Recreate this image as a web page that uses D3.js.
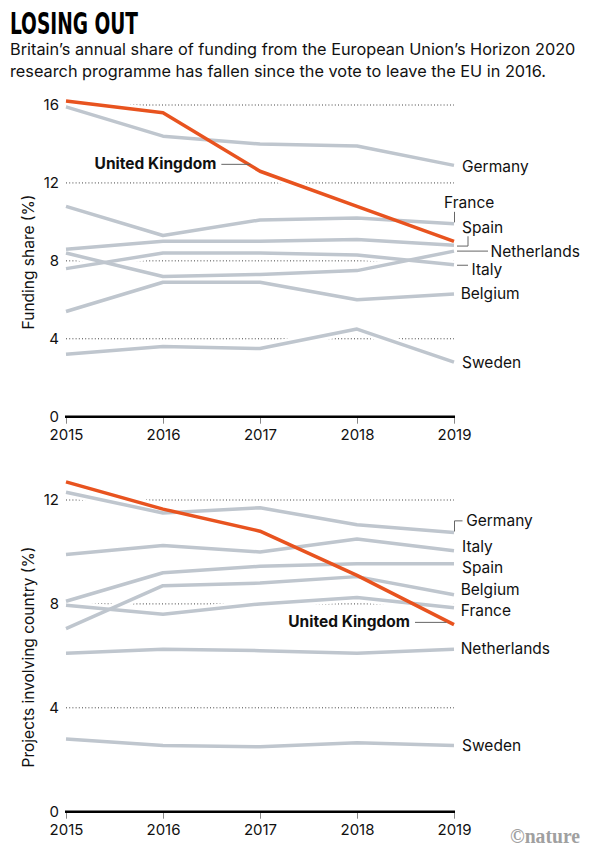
<!DOCTYPE html>
<html>
<head>
<meta charset="utf-8">
<script src="https://cdn.jsdelivr.net/npm/d3@7"></script>
<style>
  html, body { margin: 0; padding: 0; background: #fff; }
  svg { display: block; }
  text { font-family: Inter, Roboto, "Noto Sans", sans-serif; fill: #111; }
</style>
</head>
<body>
<script>
// ---------- DATA ----------
const years = [2015, 2016, 2017, 2018, 2019];
const countries = ["Germany", "France", "Spain", "Netherlands", "Italy", "Belgium", "Sweden", "United Kingdom"];

// Panel 1: funding share (%)
const fundGermany     = [15.9, 14.4, 14.0, 13.9, 12.9];
const fundFrance      = [10.8, 9.3, 10.1, 10.2, 9.9];
const fundSpain       = [8.6, 9.0, 9.0, 9.1, 8.8];
const fundNetherlands = [8.4, 7.2, 7.3, 7.5, 8.5];
const fundItaly       = [7.6, 8.4, 8.4, 8.3, 7.8];
const fundBelgium     = [5.4, 6.9, 6.9, 6.0, 6.3];
const fundSweden      = [3.2, 3.6, 3.5, 4.5, 2.8];
const fundUK          = [16.2, 15.6, 12.6, 10.8, 9.0];

// Panel 2: projects involving country (%)
const projGermany     = [12.3, 11.5, 11.7, 11.05, 10.75];
const projFrance      = [7.95, 7.6, 8.0, 8.25, 7.85];
const projSpain       = [8.1, 9.2, 9.45, 9.55, 9.55];
const projNetherlands = [6.1, 6.25, 6.2, 6.1, 6.25];
const projItaly       = [9.9, 10.25, 10.0, 10.5, 10.05];
const projBelgium     = [7.05, 8.7, 8.8, 9.05, 8.35];
const projSweden      = [2.8, 2.55, 2.5, 2.65, 2.55];
const projUK          = [12.7, 11.65, 10.8, 9.1, 7.2];

const fundTicks = [0, 4, 8, 12, 16];
const projTicks = [0, 4, 8, 12];

// ---------- LAYOUT ----------
const W = 600, H = 854;
const GRAY = "#bfc6ce", ORANGE = "#e8531f";

const svg = d3.select("body").append("svg").attr("width", W).attr("height", H);

// Title & subtitle
svg.append("text").attr("x", 10).attr("y", 34)
  .attr("textLength", 128).attr("lengthAdjust", "spacingAndGlyphs")
  .style("font-family", "'Liberation Sans Narrow', 'DejaVu Sans Condensed', sans-serif")
  .style("font-weight", 700).style("font-size", "30px").style("fill", "#000")
  .text("LOSING OUT");
svg.append("text").attr("x", 10).attr("y", 55).style("font-size", "16.3px")
  .text("Britain’s annual share of funding from the European Union’s Horizon 2020");
svg.append("text").attr("x", 10).attr("y", 77).style("font-size", "16.3px")
  .text("research programme has fallen since the vote to leave the EU in 2016.");

const x = d3.scaleLinear().domain([2015, 2019]).range([66, 454]);

function panel(cfg) {
  const y = d3.scaleLinear().domain([0, cfg.max]).range([cfg.y0, cfg.yTop]);
  const g = svg.append("g");

  // dotted gridlines
  g.selectAll(".grid").data(cfg.ticks.filter(t => t > 0)).join("line")
    .attr("x1", x(2015)).attr("x2", x(2019))
    .attr("y1", d => y(d)).attr("y2", d => y(d))
    .attr("stroke", "#444").attr("stroke-width", 1).attr("stroke-dasharray", "1,2.2");

  // y tick labels
  g.selectAll(".yt").data(cfg.ticks).join("text")
    .attr("x", 59).attr("y", d => y(d)).attr("dy", "0.36em")
    .attr("text-anchor", "end").style("font-size", "15px").text(d => d);

  // y title
  g.append("text")
    .attr("transform", `translate(34,${cfg.titleY}) rotate(-90)`)
    .attr("text-anchor", "middle").style("font-size", "15.5px").text(cfg.title);

  const line = d3.line().x((d, i) => x(years[i])).y(d => y(d));

  const series = cfg.series;
  // halos
  g.selectAll(".halo").data(series).join("path")
    .attr("d", d => line(d.values)).attr("fill", "none")
    .attr("stroke", "#fff").attr("stroke-width", 9).attr("stroke-linejoin", "round");
  // gray lines then orange
  const ordered = series.filter(s => !s.highlight).concat(series.filter(s => s.highlight));
  g.selectAll(".ln").data(ordered).join("path")
    .attr("d", d => line(d.values)).attr("fill", "none")
    .attr("stroke", d => d.highlight ? ORANGE : GRAY)
    .attr("stroke-width", 3.5).attr("stroke-linejoin", "round");

  // x axis
  const axis = g.append("g").attr("transform", `translate(0,${cfg.y0})`)
    .call(d3.axisBottom(x).tickValues(years).tickFormat(d3.format("d")).tickSize(7).tickPadding(6));
  axis.select(".domain").remove();
  axis.selectAll(".tick line").attr("stroke", "#888").attr("stroke-width", 1);
  axis.selectAll(".tick text").style("font-size", "15px").style("font-family", "Inter, Roboto, sans-serif").attr("fill", "#111");
  g.append("line").attr("x1", x(2015) - 1).attr("x2", x(2019) + 1)
    .attr("y1", cfg.y0).attr("y2", cfg.y0).attr("stroke", "#000").attr("stroke-width", 2.5);

  // labels
  series.forEach(s => {
    const lab = cfg.labels[s.name];
    const ex = x(2019), ey = y(s.values[s.values.length - 1]);
    let tx, ty;
    if (lab.abs) { tx = x(lab.abs[0]); ty = y(lab.abs[1]); }
    else { tx = ex + lab.dx; ty = ey + lab.dy; }
    if (lab.conn) {
      const pts = lab.conn.map(p => lab.abs ? [tx + p[0], ty + p[1]] : [ex + p[0], ey + p[1]]);
      g.append("path").attr("d", d3.line()(pts)).attr("fill", "none")
        .attr("stroke", "#666").attr("stroke-width", 1);
    }
    g.append("text").attr("x", tx).attr("y", ty).attr("dy", "0.36em")
      .attr("text-anchor", lab.anchor || "start")
      .style("font-size", "15.5px").style("font-weight", s.highlight ? 700 : 400)
      .text(s.name);
  });
}

panel({
  max: 16, y0: 416.7, yTop: 105, ticks: fundTicks, title: "Funding share (%)", titleY: 262,
  series: [
    { name: countries[0], values: fundGermany },
    { name: countries[1], values: fundFrance },
    { name: countries[2], values: fundSpain },
    { name: countries[3], values: fundNetherlands },
    { name: countries[4], values: fundItaly },
    { name: countries[5], values: fundBelgium },
    { name: countries[6], values: fundSweden },
    { name: countries[7], values: fundUK, highlight: true }
  ],
  labels: {
    "Germany": { dx: 8, dy: 1 },
    "France": { dx: -10, dy: -21.5, conn: [[0.5, -12], [0.5, -1.5]] },
    "Spain": { dx: 8, dy: -17.4, conn: [[3, 0.8], [14, 0.8], [14, -9]] },
    "Netherlands": { dx: 36.5, dy: 0, conn: [[3, 0], [34, 0]] },
    "Italy": { dx: 17.5, dy: 5, conn: [[3, 0.5], [14, 0.5]] },
    "Belgium": { dx: 6.7, dy: -1 },
    "Sweden": { dx: 8, dy: 0 },
    "United Kingdom": { abs: [2016.55, 12.98], anchor: "end", conn: [[5, 0.5], [34, 0.5]] }
  }
});

panel({
  max: 12, y0: 811.7, yTop: 500, ticks: projTicks, title: "Projects involving country (%)", titleY: 657,
  series: [
    { name: countries[0], values: projGermany },
    { name: countries[4], values: projItaly },
    { name: countries[2], values: projSpain },
    { name: countries[5], values: projBelgium },
    { name: countries[1], values: projFrance },
    { name: countries[3], values: projNetherlands },
    { name: countries[6], values: projSweden },
    { name: countries[7], values: projUK, highlight: true }
  ],
  labels: {
    "Germany": { dx: 12.2, dy: -11.6, conn: [[0.5, -1], [0.5, -11.6], [8.5, -11.6]] },
    "Italy": { dx: 8, dy: -4 },
    "Spain": { dx: 8, dy: 3.4 },
    "Belgium": { dx: 6.7, dy: -5 },
    "France": { dx: 6.7, dy: 2.3 },
    "Netherlands": { dx: 6.7, dy: -1 },
    "Sweden": { dx: 8, dy: 0 },
    "United Kingdom": { dx: -44, dy: -3.3, anchor: "end", conn: [[-39, -2.3], [-7.5, -2.3]] }
  }
});

// credit
svg.append("text").attr("x", 510).attr("y", 843)
  .attr("textLength", 70).attr("lengthAdjust", "spacingAndGlyphs")
  .style("font-family", "'Liberation Serif', 'DejaVu Serif', serif")
  .style("font-weight", 700).style("font-size", "20px").style("fill", "#a0a0a0")
  .text("©nature");
</script>
</body>
</html>
